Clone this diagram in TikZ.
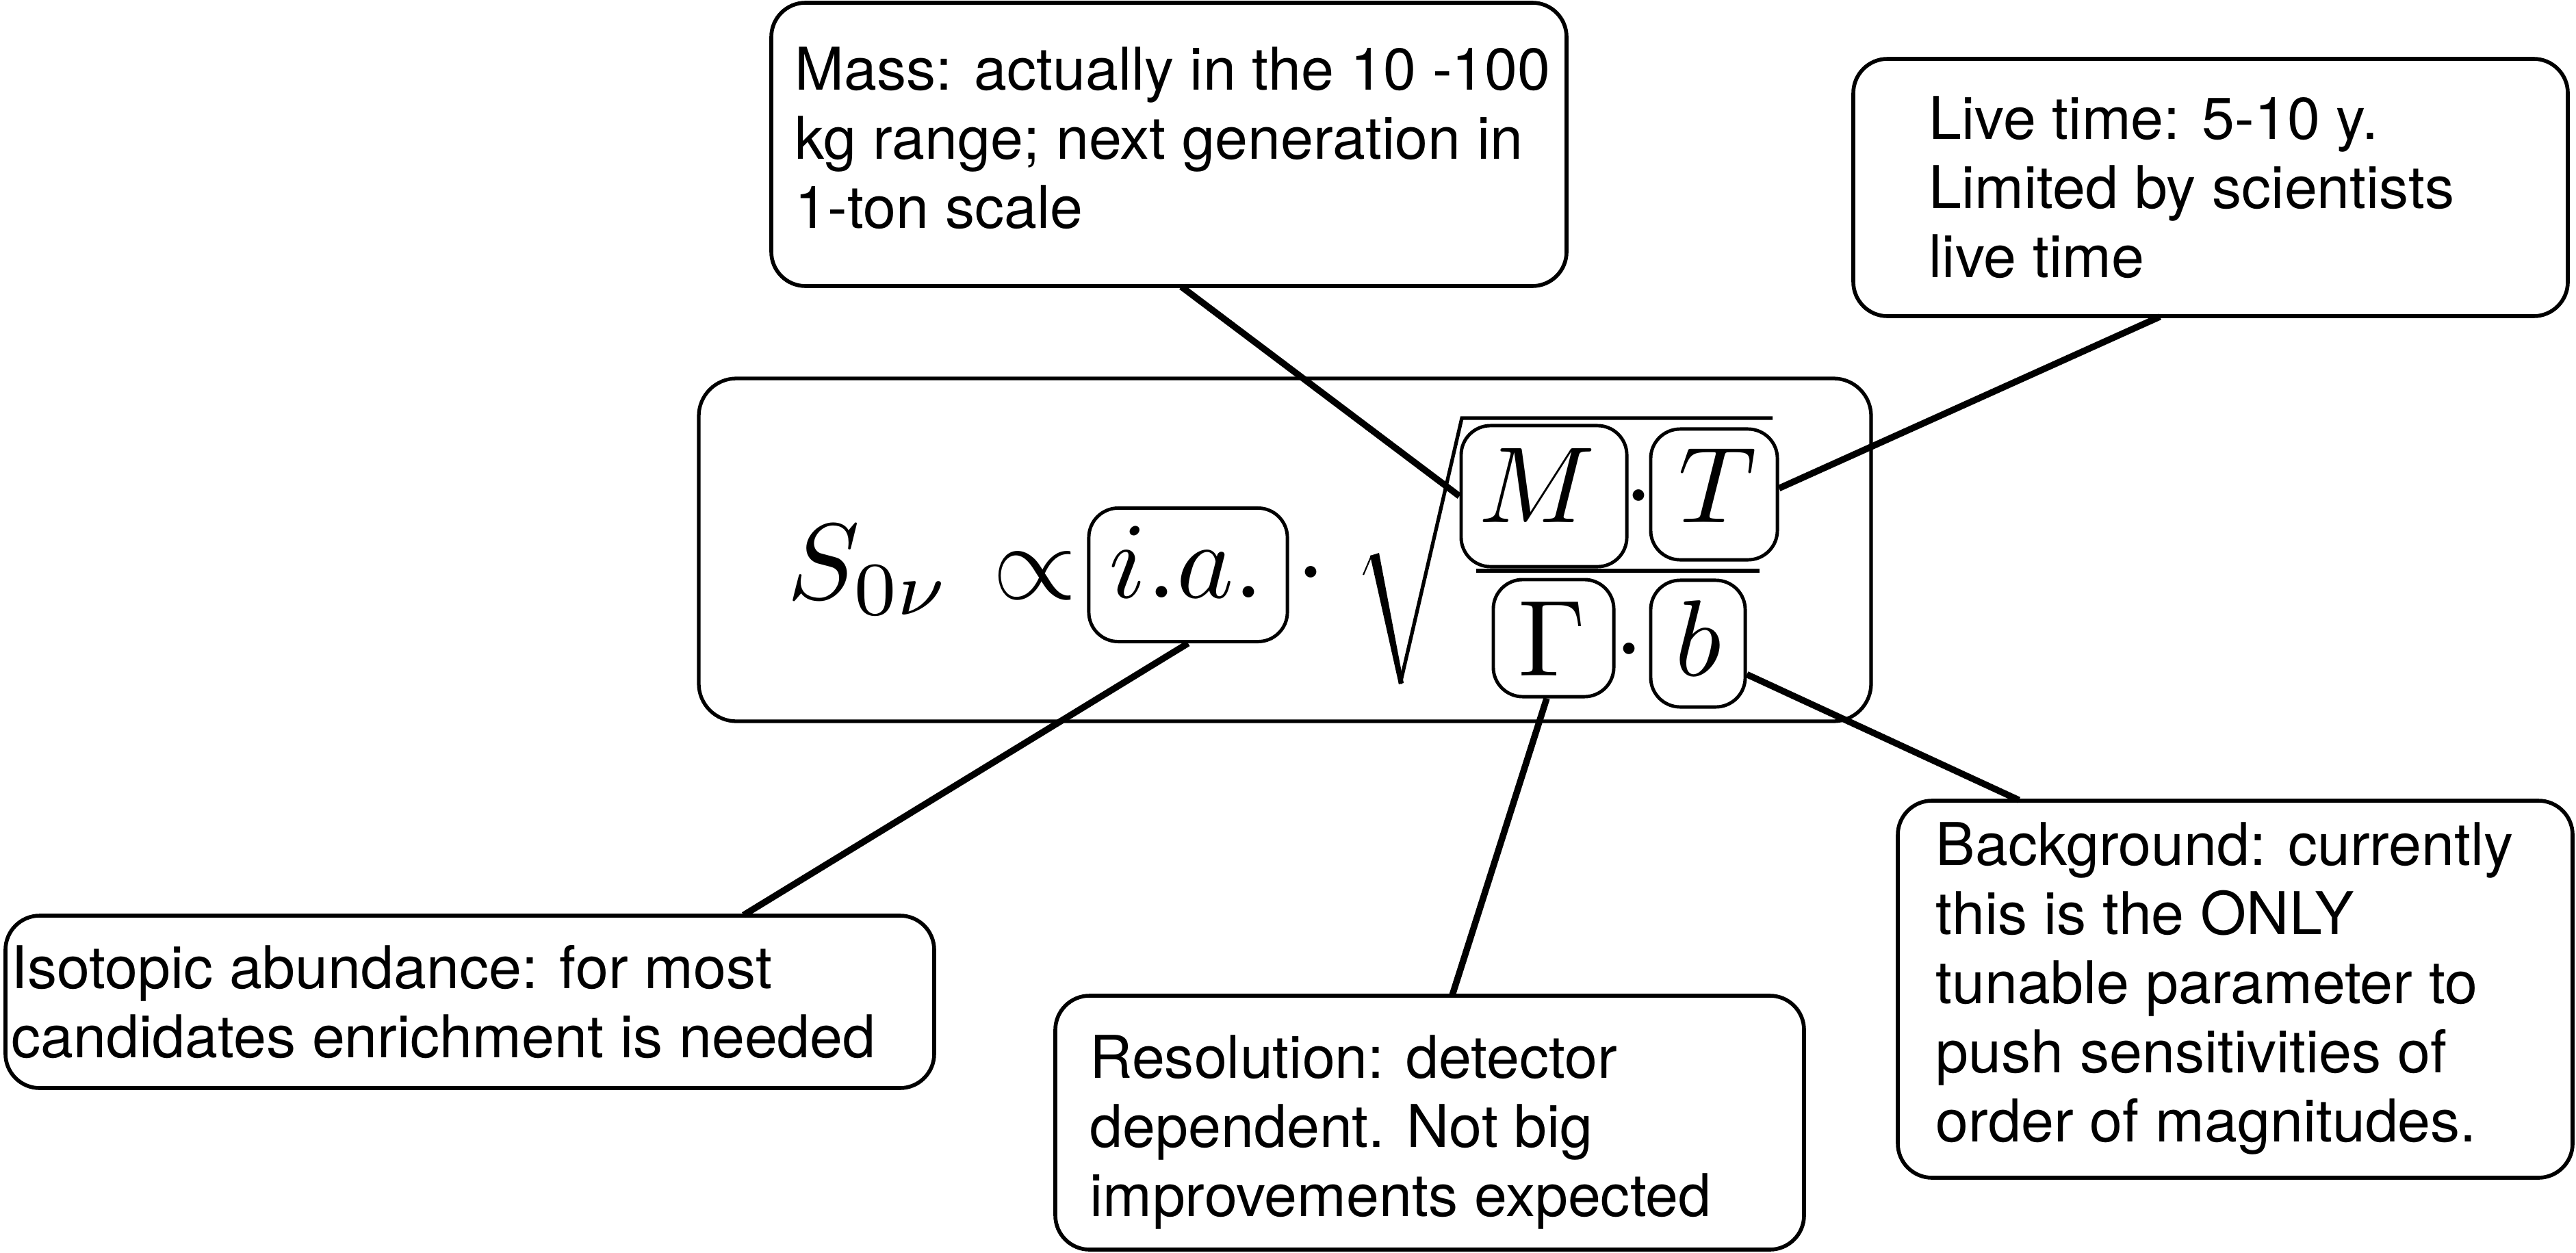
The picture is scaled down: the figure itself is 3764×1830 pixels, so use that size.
\documentclass[tikz,border=0pt]{standalone}
\usepackage{graphicx}
\usepackage[no-math]{fontspec}
\setmainfont{TeX Gyre Heros}
\usetikzlibrary{calc}
\newcommand{\fmath}[1]{\scalebox{4.5}{$#1$}}
\tikzset{
  callout/.style={draw, line width=1.6pt, rounded corners=0.5cm},
  mainbox/.style={draw, line width=1.5pt, rounded corners=0.55cm},
  fbox/.style={draw, line width=1.4pt, rounded corners=0.43cm, inner sep=0pt},
  txt/.style={inner sep=0pt, align=left, font=\fontsize{24.5}{28.7}\selectfont},
  fm/.style={inner sep=0pt},
  conn/.style={line width=2.7pt},
}
\begin{document}
\begin{tikzpicture}[x=0.01cm, y=-0.01cm]
\useasboundingbox (0,0) rectangle (3764,1830);

% callout boxes
\draw[callout] (1127,4) rectangle (2289,418);
\node[inner sep=0pt, minimum width=11.62cm, minimum height=4.14cm] (mass) at (1708,211) {};
\draw[callout] (2708,86) rectangle (3752,462);
\node[inner sep=0pt, minimum width=10.44cm, minimum height=3.76cm] (live) at (3230,274) {};
\draw[callout] (8,1338) rectangle (1365,1590);
\node[inner sep=0pt, minimum width=13.57cm, minimum height=2.52cm] (iso) at (686.5,1464) {};
\draw[callout] (1542,1455) rectangle (2636,1826);
\node[inner sep=0pt, minimum width=10.94cm, minimum height=3.71cm] (res) at (2089,1640.5) {};
\draw[callout] (2773,1170) rectangle (3759,1721);
\node[inner sep=0pt, minimum width=9.86cm, minimum height=5.51cm] (bg) at (3266,1445.5) {};

% callout texts (anchored at the baseline of their last line)
\node[txt, anchor=base west] at (1161,333) {Mass: actually in the 10 -100\\kg range; next generation in\\1-ton scale};
\node[txt, anchor=base west] at (2818,405) {Live time: 5-10 y.\\Limited by scientists\\live time};
\node[txt, anchor=base west] at (16,1545) {Isotopic abundance: for most\\candidates enrichment is needed};
\node[txt, anchor=base west] at (1592,1777) {Resolution: detector\\dependent. Not big\\improvements expected};
\node[txt, anchor=base west] at (2828,1668) {Background: currently\\this is the ONLY\\tunable parameter to\\push sensitivities of\\order of magnitudes.};

% main formula box
\draw[mainbox] (1021,553) rectangle (2734,1054);

% formula
\node[fm, anchor=base west] (S) at (1150,875) {\fmath{S_{0\nu}}};
\node[fm, anchor=base] (prop) at (1512,875) {\fmath{\propto}};
\node[fbox, minimum width=2.90cm, minimum height=1.95cm] (ia) at (1736,840) {};
\node[fm, anchor=base] (iat) at (1734,873) {\fmath{i.a.}};
\node[fm, anchor=base] (d1) at (1915,875) {\fmath{\cdot}};

% radical
\draw[line width=0.6pt] (1992,840) -- (2004,812);
\fill (2002,812) -- (2015,808) -- (2051,998) -- (2044,1000) -- cycle;
\draw[line width=1.5pt, line join=miter] (2046,999) -- (2136,611) -- (2590,611);

\node[fbox, minimum width=2.42cm, minimum height=2.06cm] (M) at (2256,725) {};
\node[fm, anchor=base] (Mt) at (2246,763) {\fmath{M}};
\node[fm, anchor=base] (d2) at (2394,763) {\fmath{\cdot}};
\node[fbox, minimum width=1.85cm, minimum height=1.91cm] (T) at (2504.5,722.5) {};
\node[fm, anchor=base] (Tt) at (2510,763) {\fmath{T}};
\draw[line width=1.7pt] (2157,834) -- (2571,834);
\node[fbox, minimum width=1.76cm, minimum height=1.71cm] (G) at (2270,932.5) {};
\node[fm, anchor=base] (Gt) at (2268,987) {\fmath{\Gamma}};
\node[fm, anchor=base] (d3) at (2380,987) {\fmath{\cdot}};
\node[fbox, minimum width=1.38cm, minimum height=1.85cm] (b) at (2481,940.5) {};
\node[fm, anchor=base] (bt) at (2481,987) {\fmath{b}};

% connectors
\draw[conn] ($(mass.south)+(18,0)$) -- (M.west);
\draw[conn] ($(live.south)+(-74,0)$) -- ($(T.east)+(0,-9)$);
\draw[conn] (ia.south) -- ($(iso.north)+(400,0)$);
\draw[conn] ($(G.south)+(-10,0)$) -- ($(res.north)+(33,0)$);
\draw[conn] ($(b.east)+(0,45)$) -- ($(bg.north)+(-316,0)$);
\end{tikzpicture}
\end{document}
